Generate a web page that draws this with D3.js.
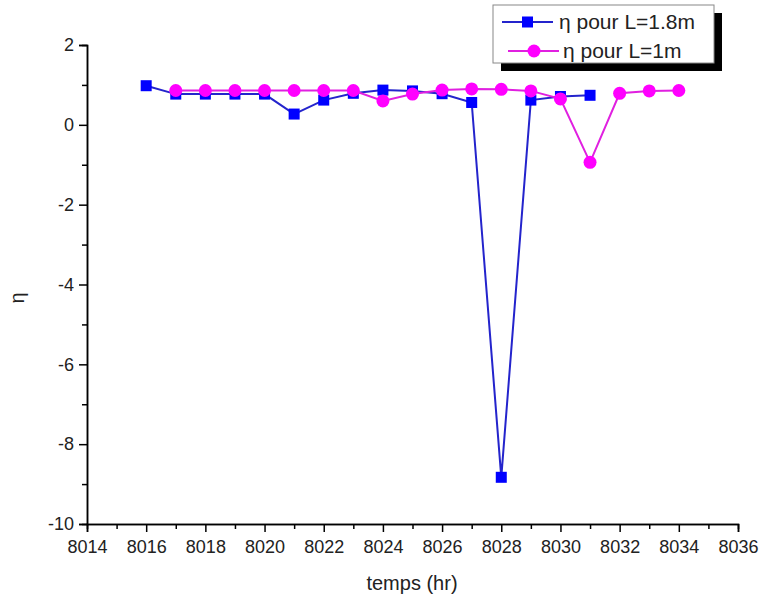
<!DOCTYPE html>
<html><head><meta charset="utf-8">
<script src="https://cdn.jsdelivr.net/npm/d3@7"></script>
<style>body{margin:0;background:#fff}svg{font-family:"Liberation Sans",Arial,sans-serif}</style>
</head><body><svg id="c" width="759" height="600"></svg>
<script>
const timeA = [8016,8017,8018,8019,8020,8021,8022,8023,8024,8025,8026,8027,8028,8029,8030,8031];
const etaA  = [0.98,0.77,0.77,0.77,0.77,0.27,0.62,0.79,0.87,0.85,0.78,0.56,-8.83,0.62,0.71,0.74];
const timeB = [8017,8018,8019,8020,8021,8022,8023,8024,8025,8026,8027,8028,8029,8030,8031,8032,8033,8034];
const etaB  = [0.86,0.86,0.86,0.86,0.86,0.86,0.86,0.60,0.77,0.87,0.90,0.89,0.85,0.65,-0.94,0.79,0.85,0.86];
const xTicks = [8014,8016,8018,8020,8022,8024,8026,8028,8030,8032,8034,8036];
const yTicks = [2,0,-2,-4,-6,-8,-10];
const seriesNames = ["\u03b7 pour L=1.8m","\u03b7 pour L=1m"];

const svg = d3.select("#c");
const x = d3.scaleLinear().domain([8014,8036]).range([87,738]);
const y = d3.scaleLinear().domain([-10,2]).range([524,45]);

// axes
const xAx = svg.append("g").attr("transform","translate(0,524)")
  .call(d3.axisBottom(x).tickValues(xTicks).tickFormat(d=>String(d)).tickSize(8).tickPadding(5));
const xMinor = svg.append("g").attr("transform","translate(0,524)")
  .call(d3.axisBottom(x).tickValues(d3.range(8015,8036,2)).tickFormat("").tickSize(5));
const yAx = svg.append("g").attr("transform","translate(87,0)")
  .call(d3.axisLeft(y).tickValues(yTicks).tickFormat(d=>String(d)).tickSize(8).tickPadding(5));
const yMinor = svg.append("g").attr("transform","translate(87,0)")
  .call(d3.axisLeft(y).tickValues(d3.range(-9,2,2)).tickFormat("").tickSize(5));
[xAx,xMinor,yAx,yMinor].forEach(g=>{
  g.select(".domain").attr("stroke","#000").attr("stroke-width",1.5);
  g.selectAll(".tick line").attr("stroke","#000").attr("stroke-width",1.5);
  g.selectAll("text").attr("font-size",18).attr("fill","#222").attr("font-family","Liberation Sans, Arial, sans-serif");
});
xAx.selectAll("text").attr("dy","0.9em");

svg.append("text").attr("x",412).attr("y",590).attr("text-anchor","middle")
  .attr("font-size",20).attr("fill","#222").text("temps (hr)");
svg.append("text").attr("transform","translate(24,298) rotate(-90)").attr("text-anchor","middle")
  .attr("font-size",20).attr("fill","#222").text("\u03b7");

const line = d3.line().x(d=>x(d[0])).y(d=>y(d[1]));
const dA = timeA.map((t,i)=>[t,etaA[i]]);
const dB = timeB.map((t,i)=>[t,etaB[i]]);

svg.append("path").datum(dA).attr("d",line).attr("fill","none").attr("stroke","#2424cc").attr("stroke-width",2);
svg.selectAll(".sq").data(dA).enter().append("rect")
  .attr("x",d=>x(d[0])-5.5).attr("y",d=>y(d[1])-5.5).attr("width",11).attr("height",11).attr("fill","#0000ff");

svg.append("path").datum(dB).attr("d",line).attr("fill","none").attr("stroke","#e020e0").attr("stroke-width",2);
svg.selectAll(".ci").data(dB).enter().append("circle")
  .attr("cx",d=>x(d[0])).attr("cy",d=>y(d[1])).attr("r",6.5).attr("fill","#ff00ff");

// legend
const lg = svg.append("g");
lg.append("rect").attr("x",501).attr("y",13).attr("width",221).attr("height",58).attr("fill","#000");
lg.append("rect").attr("x",493).attr("y",5).attr("width",221).attr("height",58).attr("fill","#fff").attr("stroke","#888").attr("stroke-width",1);
// row 1
lg.append("line").attr("x1",502).attr("x2",553).attr("y1",22).attr("y2",22).attr("stroke","#2424cc").attr("stroke-width",2);
lg.append("rect").attr("x",522).attr("y",16.5).attr("width",11).attr("height",11).attr("fill","#0000ff");
lg.append("text").attr("x",559).attr("y",29).attr("font-size",21).attr("fill","#222").text(seriesNames[0]);
// row 2
lg.append("line").attr("x1",508).attr("x2",559).attr("y1",51).attr("y2",51).attr("stroke","#e020e0").attr("stroke-width",2);
lg.append("circle").attr("cx",534).attr("cy",51).attr("r",6.5).attr("fill","#ff00ff");
lg.append("text").attr("x",563).attr("y",58).attr("font-size",21).attr("fill","#222").text(seriesNames[1]);
</script></body></html>
